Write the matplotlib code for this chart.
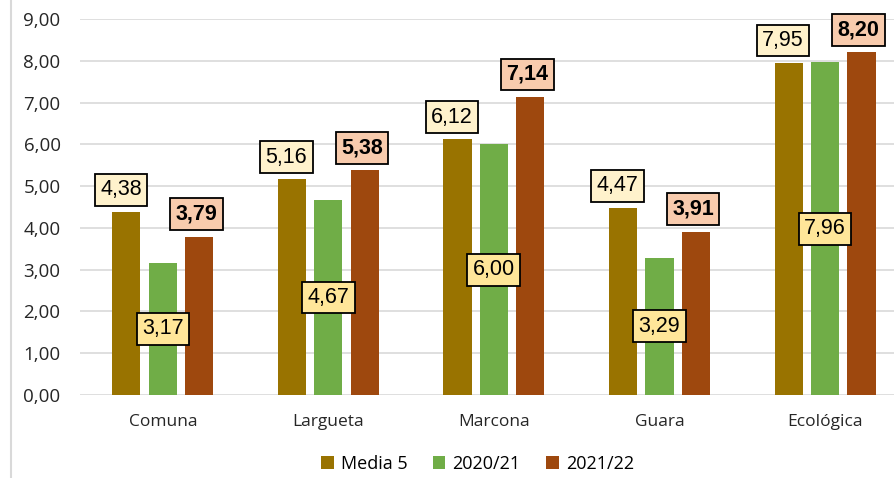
import numpy as np
import matplotlib.pyplot as plt
from matplotlib.lines import Line2D

categories = ['Comuna', 'Largueta', 'Marcona', 'Guara', 'Ecológica']
media5 = [4.38, 5.16, 6.12, 4.47, 7.95]
c2020 = [3.17, 4.67, 6.00, 3.29, 7.96]
c2021 = [3.79, 5.38, 7.14, 3.91, 8.20]
yticks = [0, 1, 2, 3, 4, 5, 6, 7, 8, 9]


def fmt(v):
    return f'{v:.2f}'.replace('.', ',')


fig = plt.figure(figsize=(8.94, 4.78), dpi=100)
ax = fig.add_axes([0.0895, 0.1736, 0.926, 0.7866])

x = np.arange(len(categories))
w = 0.17
off = 0.22
b1 = ax.bar(x - off, media5, w, color='#997300', label='Media 5', zorder=3)
b2 = ax.bar(x, c2020, w, color='#70AD47', label='2020/21', zorder=3)
b3 = ax.bar(x + off, c2021, w, color='#9E480E', label='2021/22', zorder=3)

lab_font = dict(family='Liberation Sans', size=15.5)
box = dict(boxstyle='square,pad=0.25', ec='black', lw=1.3)
for xi, v in zip(x - off, media5):
    ax.annotate(fmt(v), (xi, v), xytext=(-4, 8.5), textcoords='offset points',
                ha='center', va='bottom', **lab_font, zorder=5,
                bbox=dict(box, fc='#FFF2CC'))
for xi, v in zip(x, c2020):
    ax.text(xi, v / 2, fmt(v), ha='center', va='center', **lab_font, zorder=5,
            bbox=dict(box, fc='#FFE699'))
for xi, v in zip(x + off, c2021):
    ax.annotate(fmt(v), (xi, v), xytext=(-2, 8.5), textcoords='offset points',
                ha='center', va='bottom', fontweight='bold', **lab_font, zorder=5,
                bbox=dict(box, fc='#F8CBAD'))

ax.set_ylim(0, 9)
ax.set_xlim(-0.5, 4.5)
ax.set_yticks(yticks)
ax.set_yticklabels([fmt(t) for t in yticks], fontsize=13.5, family='Open Sans', color='#262626')
ax.set_xticks(x)
ax.set_xticklabels(categories, fontsize=12.5, family='Open Sans', color='#262626')
ax.tick_params(length=0)
ax.tick_params(axis='x', pad=14)
ax.tick_params(axis='y', pad=14)
ax.grid(axis='y', color='#D9D9D9', lw=1.2, zorder=0)
for s in ax.spines.values():
    s.set_visible(False)

leg = fig.legend(handles=[b1, b2, b3], loc='center', bbox_to_anchor=(0.534, 0.03),
                 ncol=3, frameon=False, handlelength=0.7, handleheight=0.7,
                 handletextpad=0.4, columnspacing=1.4,
                 prop=dict(family='Open Sans', size=13))

fig.add_artist(Line2D([0.012, 0.012], [0, 1], color='#D9D9D9', lw=1.5,
                      transform=fig.transFigure))

fig.savefig('out.png', dpi=100)
